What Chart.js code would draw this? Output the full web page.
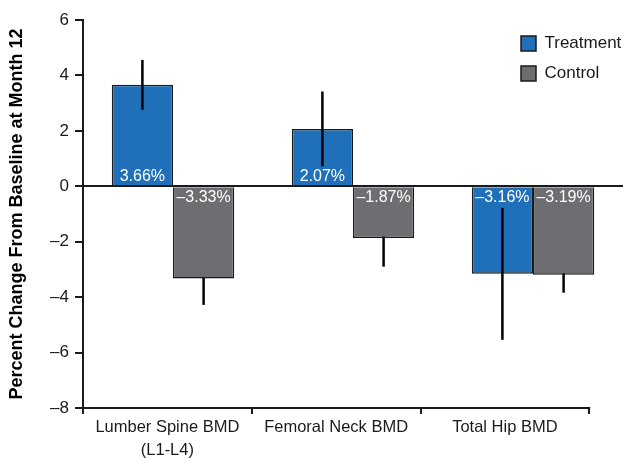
<!DOCTYPE html>
<html>
<head>
<meta charset="utf-8">
<script src="https://cdn.jsdelivr.net/npm/chart.js@4.4.1/dist/chart.umd.min.js"></script>
<style>
  html, body { margin: 0; padding: 0; background: #fff; }
  #wrap { width: 637px; height: 460px; }
</style>
</head>
<body>
<div id="wrap"><canvas id="bmdChart"></canvas></div>
<script>
// Percent change in BMD from baseline at month 12

const categories = [['Lumber Spine BMD', '(L1-L4)'], 'Femoral Neck BMD', 'Total Hip BMD'];
const treatmentValues = [3.66, 2.07, -3.16];
const controlValues = [-3.33, -1.87, -3.19];
const treatmentErr = [0.9, 1.35, 2.38];
const controlErr = [0.95, 1.03, 0.65];
const yTicks = [-8, -6, -4, -2, 0, 2, 4, 6];

const INK = '#1a1a1a';
const FONT = "'Liberation Sans', Arial, Helvetica, sans-serif";
// label axis covers 3 of these units, bars use the whole chart area
const LABEL_SPAN = 3.2;

Chart.defaults.font.family = FONT;
Chart.defaults.color = INK;

const dash = (s) => String(s).replace('-', '\u2013');

// legend sits inside the plot, top right
const legendPlace = {
    id: 'legendPlace',
    afterLayout(chart) {
        const lg = chart.legend;
        if (!lg) return;
        const w = lg.width, h = lg.height;
        lg.left = 508; lg.right = lg.left + w;
        lg.top = 22; lg.bottom = lg.top + h;
    }
};

// error bars + value labels inside the bars
const barExtras = {
    id: 'barExtras',
    drawErrors(chart, behind) {
        const {ctx, scales: {y}} = chart;
        chart.data.datasets.forEach((ds, di) => {
            if (!!ds.errBehind !== behind) return;
            const meta = chart.getDatasetMeta(di);
            meta.data.forEach((bar, i) => {
                const v = ds.data[i], e = ds.errors[i];
                ctx.save();
                ctx.strokeStyle = '#000';
                ctx.lineWidth = 2.5;
                ctx.beginPath();
                ctx.moveTo(bar.x, y.getPixelForValue(v - e));
                ctx.lineTo(bar.x, y.getPixelForValue(v + e));
                ctx.stroke();
                ctx.restore();
            });
        });
    },
    beforeDatasetsDraw(chart) {
        this.drawErrors(chart, true);
    },
    afterDatasetsDraw(chart) {
        this.drawErrors(chart, false);
        const {ctx, scales: {y}} = chart;
        const zero = y.getPixelForValue(0);
        ctx.save();
        ctx.fillStyle = '#fff';
        ctx.font = '16px ' + FONT;
        ctx.textAlign = 'center';
        ctx.textBaseline = 'middle';
        chart.data.datasets.forEach((ds, di) => {
            chart.getDatasetMeta(di).data.forEach((bar, i) => {
                const v = ds.data[i];
                const ty = v >= 0 ? zero - 10 : zero + 11;
                ctx.fillText(dash(v.toFixed(2)) + '%', bar.x, ty);
            });
        });
        ctx.restore();
    },
    afterDraw(chart) {
        // bottom axis line only under the three categories
        const {ctx, scales: {xl}} = chart;
        ctx.save();
        ctx.strokeStyle = INK;
        ctx.lineWidth = 2;
        ctx.beginPath();
        ctx.moveTo(xl.getPixelForValue(0) - 1, xl.top);
        ctx.lineTo(xl.getPixelForValue(categories.length) + 1, xl.top);
        ctx.stroke();
        ctx.restore();
    }
};

const ctx = document.getElementById('bmdChart').getContext('2d');

new Chart(ctx, {
    type: 'bar',
    data: {
        labels: categories,
        datasets: [{
            label: 'Treatment',
            data: treatmentValues,
            errors: treatmentErr,
            errBehind: false,
            backgroundColor: '#1f70b9',
            borderColor: INK,
            borderWidth: 1.5
        }, {
            label: 'Control',
            data: controlValues,
            errors: controlErr,
            errBehind: true,
            backgroundColor: '#6d6e71',
            borderColor: INK,
            borderWidth: 1.5
        }]
    },
    options: {
        responsive: true,
        maintainAspectRatio: false,
        animation: false,
        layout: { padding: { top: 20, right: 14, left: 0, bottom: 0 } },
        datasets: {
            bar: { categoryPercentage: 0.68, barPercentage: 1.0 }
        },
        plugins: {
            tooltip: { enabled: false },
            legend: {
                position: 'chartArea',
                fullSize: false,
                align: 'start',
                labels: {
                    font: { size: 17 },
                    color: INK,
                    boxWidth: 15,
                    boxHeight: 15,
                    padding: 13
                }
            }
        },
        scales: {
            x: {
                display: false,
                offset: true
            },
            xl: {
                type: 'linear',
                position: 'bottom',
                offset: false,
                min: 0,
                max: LABEL_SPAN,
                afterBuildTicks: (scale) => {
                    scale.ticks = categories.map((c, i) => ({ value: i + 0.5 }));
                },
                afterFit: (scale) => { scale.height = 52; },
                border: { display: false },
                grid: {
                    offset: true,
                    drawOnChartArea: false,
                    drawTicks: true,
                    tickLength: 6,
                    color: INK,
                    lineWidth: 2
                },
                ticks: {
                    autoSkip: false,
                    maxRotation: 0,
                    padding: 2,
                    font: { size: 16.5, lineHeight: 1.4 },
                    color: INK,
                    callback: (v) => categories[Math.floor(v)]
                }
            },
            y: {
                min: yTicks[0],
                max: yTicks[yTicks.length - 1],
                afterBuildTicks: (scale) => {
                    scale.ticks = yTicks.map(v => ({ value: v }));
                },
                afterFit: (scale) => { scale.width = 83; },
                border: { display: true, color: INK, width: 2 },
                grid: {
                    color: (c) => (c.tick && c.tick.value === 0 ? INK : 'rgba(0,0,0,0)'),
                    lineWidth: 2,
                    tickColor: INK,
                    tickWidth: 2,
                    tickLength: 8
                },
                ticks: {
                    padding: 6,
                    font: { size: 17 },
                    color: INK,
                    callback: (v) => dash(v)
                },
                title: {
                    display: true,
                    text: 'Percent Change From Baseline at Month 12',
                    font: { size: 18, weight: 'bold' },
                    color: '#000',
                    padding: { top: 6, bottom: 0 }
                }
            }
        }
    },
    plugins: [legendPlace, barExtras]
});
</script>
</body>
</html>
